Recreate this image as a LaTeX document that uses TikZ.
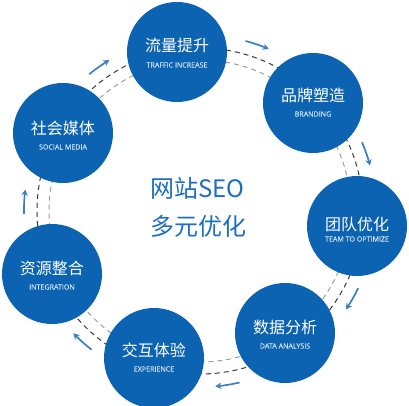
\documentclass[tikz,border=0pt]{standalone}
\usepackage{fontspec}
\setmainfont{Open Sans}
\newfontfamily\zhfont{Noto Sans CJK SC}
\newfontfamily\enfont[FakeBold=0.4]{Open Sans}
\usetikzlibrary{arrows.meta}
\definecolor{seoblue}{RGB}{11,99,177}
\definecolor{titleblue}{RGB}{28,110,192}
\definecolor{arrowblue}{RGB}{58,128,200}
\definecolor{enwhite}{RGB}{205,224,246}

\begin{document}
\begin{tikzpicture}[x=1pt,y=1pt,
  ball/.style={circle,fill=seoblue,minimum size=100pt,inner sep=0pt},
  zh/.style={text=white,inner sep=0pt,font=\zhfont\fontsize{16}{16}\selectfont},
  en/.style={text=enwhite,inner sep=0pt,font=\enfont\fontsize{7.1}{8}\selectfont},
  ringdark/.style={draw=black!78,line width=1pt,dash pattern=on 5pt off 4pt},
  ringlight/.style={draw=black!38,line width=1pt,dash pattern=on 5pt off 4pt},
  flow/.style={draw=arrowblue,line width=1.7pt,-{Stealth[length=6pt,width=6.5pt]}}]
\useasboundingbox (-200,-195) rectangle (209,211);
\coordinate (o) at (0,0);

% two dashed rings behind the balls
\draw[ringdark] (o) circle[radius=163];
\draw[ringlight] (o) circle[radius=151];

% small arrows, clockwise
\foreach \a [evaluate=\a as \s using \a+4, evaluate=\a as \t using \a-4]
    in {71,19,-30,-81,-132,-183,-235}
  \draw[flow] (\s:176) arc[start angle=\s,end angle=\t,radius=176];

% the seven balls
\foreach \x/\y/\n/\z/\e/\dz/\de in {
    -23/159/traffic/流量提升/TRAFFIC INCREASE/7/-13,
    113/108/brand/品牌塑造/BRANDING/8/-11,
    157/-15/team/团队优化/TEAM TO OPTIMIZE/2/-13,
    85/-122/data/数据分析/DATA ANALYSIS/6/-13,
    -46/-147/exper/交互体验/EXPERIENCE/8/-11,
    -148/-63/integ/资源整合/INTEGRATION/6/-13,
    -137/78/social/社会媒体/SOCIAL MEDIA/5/-14}{
  \node[ball] (\n) at (\x,\y) {};
  \node[zh] (\n-zh) at ([yshift=\dz pt]\n.center) {\z};
  \node[en] (\n-en) at ([yshift=\de pt]\n.center) {\e};
}

\node[text=titleblue,align=left,inner sep=0pt,font=\zhfont\fontsize{24}{38}\selectfont]
  (title) at (-2,4) {网站SEO\\多元优化};
\end{tikzpicture}
\end{document}
